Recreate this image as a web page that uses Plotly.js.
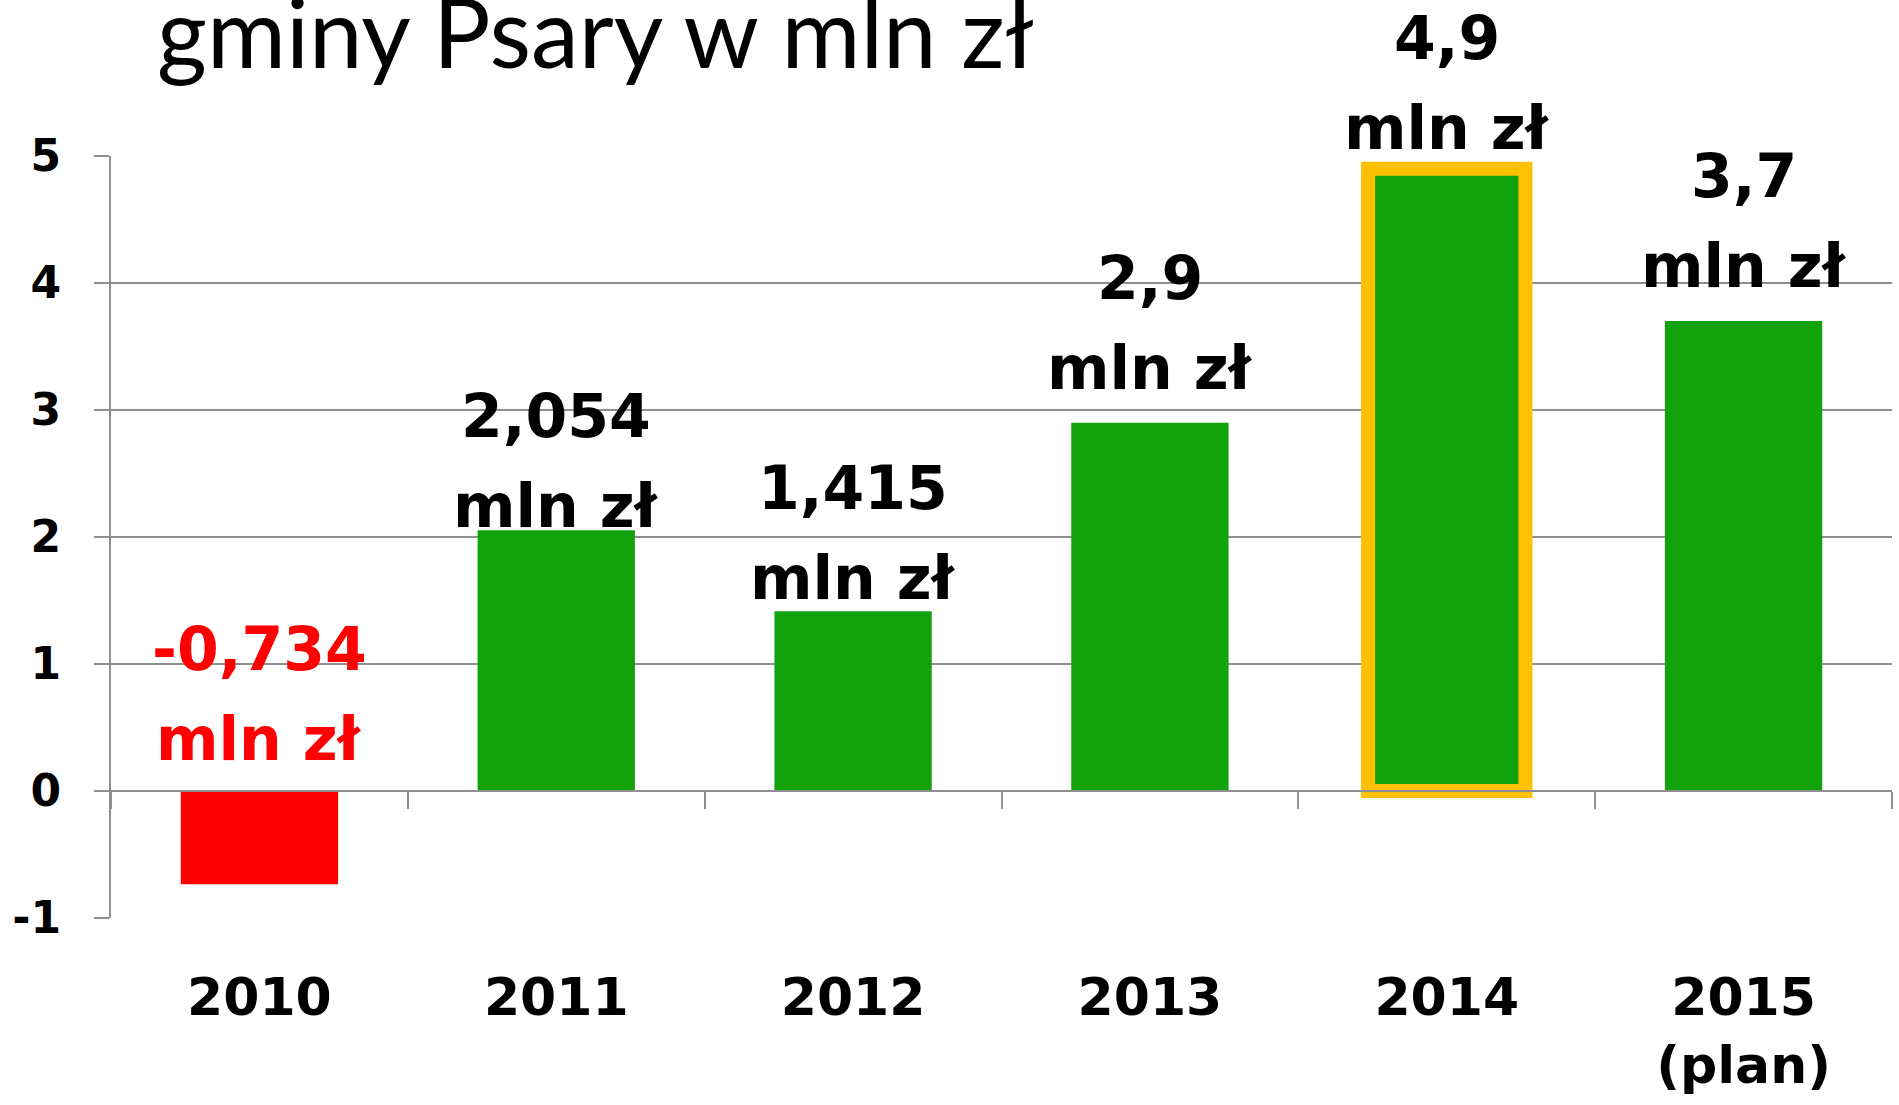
<!DOCTYPE html>
<html>
<head>
<meta charset="utf-8">
<script src="https://cdn.plot.ly/plotly-3.0.1.min.js"></script>
<style>html,body{margin:0;padding:0;background:#fff;}#chart{width:1899px;height:1105px;}</style>
</head>
<body>
<div id="chart"></div>
<script>
// ---- data ----
const categories = ['2010', '2011', '2012', '2013', '2014', '2015'];
const tickLabels = ['2010', '2011', '2012', '2013', '2014', '2015<br>(plan)'];
const values = [-0.734, 2.054, 1.415, 2.9, 4.9, 3.7];
const valueLabels = ['-0,734', '2,054', '1,415', '2,9', '4,9', '3,7'];
const unitLabel = 'mln zł';
const yTickVals = [-1, 0, 1, 2, 3, 4, 5];
const yTickLabels = ['-1', '0', '1', '2', '3', '4', '5'];
const titleText = 'gminy Psary w mln zł';

// ---- styles ----
const GREEN = '#12A30C', RED = '#FF0000', ORANGE = '#FFC000', GRID = '#8f8f8f';
const barColors = values.map(v => v < 0 ? RED : GREEN);
const highlight = 4; // 2014
const lineWidths = values.map((v, i) => i === highlight ? 14 : 0);
const labelColors = values.map(v => v < 0 ? RED : '#000000');
// pixel shifts of the "mln zł" line above each bar's top (hand placement in original)
const unitShift = [15, -13, -4, 18, 4, 18];
const lineGap = 90;
const boldFont = 'DejaVu Sans';
const xRange = [-0.5, categories.length - 0.5];

const traces = [{
  type: 'bar',
  x: categories,
  y: values,
  width: 0.53,
  marker: { color: barColors, line: { color: ORANGE, width: lineWidths } },
  hoverinfo: 'skip'
}, {
  type: 'bar',
  x: categories,
  y: values,
  xaxis: 'x2',
  width: 0.53,
  marker: { color: 'rgba(0,0,0,0)' },
  hoverinfo: 'skip',
  showlegend: false
}];

const annotations = [];
categories.forEach((c, i) => {
  const base = Math.max(values[i], 0);
  const f = { family: boldFont, size: 60, weight: 'bold', color: labelColors[i] };
  annotations.push({
    x: i, y: base, xref: 'x', yref: 'y', xanchor: 'center', yanchor: 'bottom',
    yshift: unitShift[i], showarrow: false, text: unitLabel, font: f
  });
  annotations.push({
    x: i, y: base, xref: 'x', yref: 'y', xanchor: 'center', yanchor: 'bottom',
    yshift: unitShift[i] + lineGap, showarrow: false, text: valueLabels[i], font: f
  });
});

const layout = {
  width: 1899, height: 1105,
  margin: { l: 111, r: 7, t: 156, b: 187 },
  paper_bgcolor: '#ffffff', plot_bgcolor: '#ffffff',
  showlegend: false,
  title: {
    text: titleText,
    xref: 'container', x: 157 / 1899, xanchor: 'left',
    yref: 'container', y: 1 - 34 / 1105, yanchor: 'middle',
    font: { family: 'Lato', size: 96, color: '#000000' }
  },
  xaxis: {
    type: 'category', range: xRange, autorange: false,
    categoryarray: categories, categoryorder: 'array',
    tickvals: categories, ticktext: tickLabels,
    showline: false, showgrid: false, zeroline: false, ticks: '',
    ticklabelstandoff: 44,
    tickfont: { family: boldFont, size: 52, weight: 'bold', color: '#000000' },
    fixedrange: true
  },
  xaxis2: {
    type: 'category', overlaying: 'x', anchor: 'free', position: 1 / 6,
    range: xRange, autorange: false,
    categoryarray: categories, categoryorder: 'array',
    showline: true, linecolor: GRID, linewidth: 2,
    ticks: 'outside', tickson: 'boundaries', ticklen: 17, tickwidth: 2, tickcolor: GRID,
    showticklabels: false, showgrid: false, zeroline: false, fixedrange: true
  },
  yaxis: {
    range: [-1, 5], autorange: false,
    tickvals: yTickVals, ticktext: yTickLabels,
    showgrid: true, gridcolor: GRID, gridwidth: 2,
    showline: true, linecolor: GRID, linewidth: 2,
    zeroline: false,
    ticks: 'outside', ticklen: 15, tickwidth: 2, tickcolor: GRID,
    ticklabelstandoff: 24,
    tickfont: { family: boldFont, size: 44, weight: 'bold', color: '#000000' },
    fixedrange: true
  },
  bargap: 0.47,
  annotations: annotations
};

Plotly.newPlot('chart', traces, layout, { displayModeBar: false, staticPlot: true });
</script>
</body>
</html>
